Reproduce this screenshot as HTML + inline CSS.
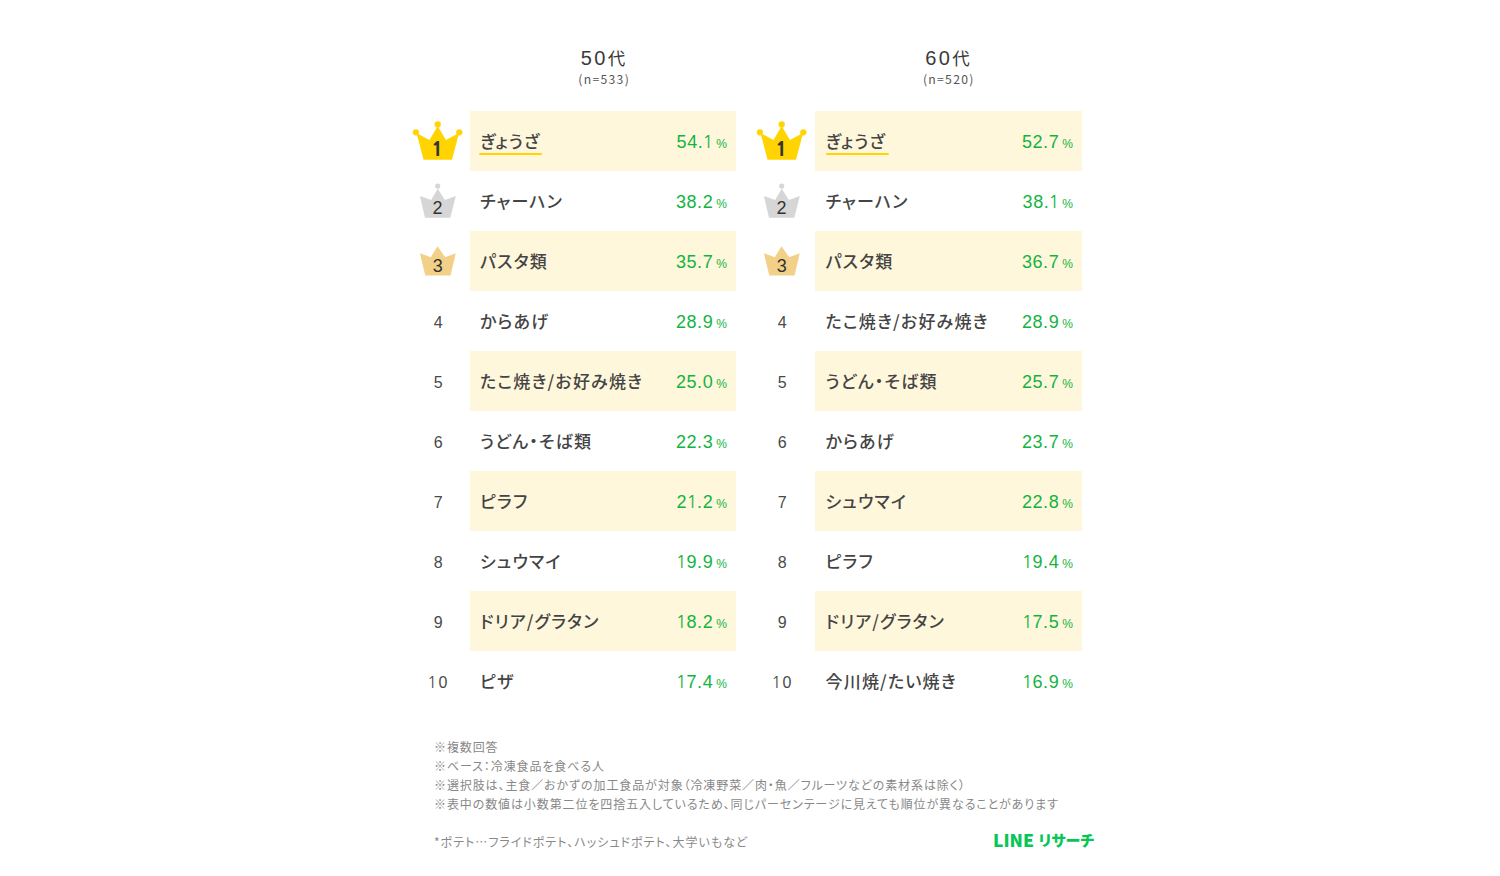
<!DOCTYPE html>
<html lang="ja">
<head>
<meta charset="utf-8">
<style>
html,body{margin:0;padding:0;background:#fff;}
body{width:1500px;height:876px;position:relative;overflow:hidden;font-family:"Liberation Sans","Noto Sans CJK JP",sans-serif;color:#3c3c3c;}
.hd{position:absolute;width:300px;text-align:center;white-space:nowrap;}
.c1 .hd{left:454.2px;}
.c2 .hd{left:798.8px;}
.h1{top:45px;font-size:19px;line-height:26px;color:#3a3a3a;letter-spacing:2.4px;}
.h1 .n{font-family:"Liberation Sans",sans-serif;font-size:20px;}
.h1 .k{font-family:"Noto Sans CJK JP",sans-serif;font-size:17.5px;}
.h2{top:71px;font-family:"Noto Sans CJK JP",sans-serif;font-size:12.2px;line-height:16px;color:#555;letter-spacing:1.3px;}
.row{position:absolute;left:0;width:1500px;height:60px;}
.bx{position:absolute;top:0;height:60px;}
.row.sh .bx{background:#fff7dc;}
.c1 .bx{left:470px;width:266px;}
.c2 .bx{left:815px;width:267px;}
.nm{position:absolute;top:-0.5px;line-height:60px;font-family:"Noto Sans CJK JP",sans-serif;font-weight:500;font-size:17px;color:#444;white-space:nowrap;font-feature-settings:"palt";letter-spacing:1.2px;}
.c1 .nm{left:480px;}
.c2 .nm{left:825.5px;}
.pc{position:absolute;top:1px;line-height:60px;font-size:18px;color:#12b440;white-space:nowrap;letter-spacing:0.6px;}
.c1 .pc{right:773px;}
.c2 .pc{right:427px;}
.pc small{font-size:12px;letter-spacing:0;margin-left:3px;}
.rk{position:absolute;top:2px;width:40px;text-align:center;line-height:60px;font-size:16px;color:#4a4a4a;}
.c1 .rk{left:418.1px;}
.c2 .rk{left:762.2px;}
.cr{position:absolute;top:0;width:60px;height:60px;}
.c1 .cr{left:410px;}
.c2 .cr{left:753.8px;}
.ul{position:absolute;height:2.6px;top:41.6px;background:#ffd400;border-radius:1.3px;}
.c1 .ul{left:479px;}
.c2 .ul{left:826px;}
.notes{position:absolute;left:434px;top:737px;font-family:"Noto Sans CJK JP",sans-serif;font-size:12px;line-height:19px;color:#888;white-space:nowrap;letter-spacing:0.9px;font-feature-settings:"palt";}
.foot{position:absolute;left:434px;top:832px;font-family:"Noto Sans CJK JP",sans-serif;font-size:12px;line-height:19px;color:#888;white-space:nowrap;letter-spacing:1px;font-feature-settings:"palt";}
.p{font-feature-settings:"palt";}
.o{font-family:"NanumGothic","Liberation Sans",sans-serif;line-height:1;}
.pc .o{margin:0 -0.8px;}
.rk .o{position:relative;left:-1.5px;}
.logo{position:absolute;top:829px;font-family:"Noto Sans CJK JP",sans-serif;font-weight:900;line-height:22px;color:#06c755;white-space:nowrap;}
.l1{left:993px;font-size:17.5px;}
.l2{left:1038.5px;font-size:15px;font-feature-settings:"palt";}
</style>
</head>
<body>

<div class="c1">
  <div class="hd h1"><span class="n">50</span><span class="k">代</span></div>
  <div class="hd h2">(n=533)</div>
  <div class="row sh" style="top:111px"><div class="bx"></div><svg class="cr" viewBox="0 0 60 60" width="60" height="60"><circle cx="5.9" cy="21.3" r="3.1" fill="#ffd400"/><circle cx="27.7" cy="13.4" r="3.1" fill="#ffd400"/><circle cx="49.3" cy="21.3" r="3.1" fill="#ffd400"/><polygon points="6.5,22 19.5,29.1 27.7,15 35.9,29.1 49,22 42,48.7 13.6,48.7" fill="#ffd400"/><text x="27.2" y="45" text-anchor="middle" font-family="NanumGothic" font-weight="800" font-size="19" fill="#333">1</text></svg><div class="nm">ぎょうざ</div><div class="ul" style="width:63px"></div><div class="pc">54.<span class=o>1</span><small>%</small></div></div>
  <div class="row" style="top:171px"><div class="bx"></div><svg class="cr" viewBox="0 0 60 60" width="60" height="60"><circle cx="27.7" cy="15" r="2.6" fill="#d6d6d6"/><polygon points="9.9,24.9 21.2,29 27.7,17.7 34.9,29 45.8,24.9 40.3,46.8 15,46.8" fill="#d6d6d6"/><text x="27.5" y="43.4" text-anchor="middle" font-family="Liberation Sans" font-size="18" fill="#333">2</text></svg><div class="nm">チャーハン</div><div class="pc">38.2<small>%</small></div></div>
  <div class="row sh" style="top:231px"><div class="bx"></div><svg class="cr" viewBox="0 0 60 60" width="60" height="60"><polygon points="9.9,22.2 20.8,26.3 27.5,15.3 35.2,26.3 45.8,22.2 40.5,44.4 15.3,44.4" fill="#f2d088"/><text x="27.7" y="41" text-anchor="middle" font-family="Liberation Sans" font-size="18" fill="#333">3</text></svg><div class="nm">パスタ類</div><div class="pc">35.7<small>%</small></div></div>
  <div class="row" style="top:291px"><div class="bx"></div><div class="rk">4</div><div class="nm">からあげ</div><div class="pc">28.9<small>%</small></div></div>
  <div class="row sh" style="top:351px"><div class="bx"></div><div class="rk">5</div><div class="nm">たこ焼き/お好み焼き</div><div class="pc">25.0<small>%</small></div></div>
  <div class="row" style="top:411px"><div class="bx"></div><div class="rk">6</div><div class="nm">うどん・そば類</div><div class="pc">22.3<small>%</small></div></div>
  <div class="row sh" style="top:471px"><div class="bx"></div><div class="rk">7</div><div class="nm">ピラフ</div><div class="pc">2<span class=o>1</span>.2<small>%</small></div></div>
  <div class="row" style="top:531px"><div class="bx"></div><div class="rk">8</div><div class="nm">シュウマイ</div><div class="pc"><span class=o>1</span>9.9<small>%</small></div></div>
  <div class="row sh" style="top:591px"><div class="bx"></div><div class="rk">9</div><div class="nm">ドリア/グラタン</div><div class="pc"><span class=o>1</span>8.2<small>%</small></div></div>
  <div class="row" style="top:651px"><div class="bx"></div><div class="rk"><span class=o>1</span>0</div><div class="nm">ピザ</div><div class="pc"><span class=o>1</span>7.4<small>%</small></div></div>
</div>

<div class="c2">
  <div class="hd h1"><span class="n">60</span><span class="k">代</span></div>
  <div class="hd h2">(n=520)</div>
  <div class="row sh" style="top:111px"><div class="bx"></div><svg class="cr" viewBox="0 0 60 60" width="60" height="60"><circle cx="5.9" cy="21.3" r="3.1" fill="#ffd400"/><circle cx="27.7" cy="13.4" r="3.1" fill="#ffd400"/><circle cx="49.3" cy="21.3" r="3.1" fill="#ffd400"/><polygon points="6.5,22 19.5,29.1 27.7,15 35.9,29.1 49,22 42,48.7 13.6,48.7" fill="#ffd400"/><text x="27.2" y="45" text-anchor="middle" font-family="NanumGothic" font-weight="800" font-size="19" fill="#333">1</text></svg><div class="nm">ぎょうざ</div><div class="ul" style="width:63px"></div><div class="pc">52.7<small>%</small></div></div>
  <div class="row" style="top:171px"><div class="bx"></div><svg class="cr" viewBox="0 0 60 60" width="60" height="60"><circle cx="27.7" cy="15" r="2.6" fill="#d6d6d6"/><polygon points="9.9,24.9 21.2,29 27.7,17.7 34.9,29 45.8,24.9 40.3,46.8 15,46.8" fill="#d6d6d6"/><text x="27.5" y="43.4" text-anchor="middle" font-family="Liberation Sans" font-size="18" fill="#333">2</text></svg><div class="nm">チャーハン</div><div class="pc">38.<span class=o>1</span><small>%</small></div></div>
  <div class="row sh" style="top:231px"><div class="bx"></div><svg class="cr" viewBox="0 0 60 60" width="60" height="60"><polygon points="9.9,22.2 20.8,26.3 27.5,15.3 35.2,26.3 45.8,22.2 40.5,44.4 15.3,44.4" fill="#f2d088"/><text x="27.7" y="41" text-anchor="middle" font-family="Liberation Sans" font-size="18" fill="#333">3</text></svg><div class="nm">パスタ類</div><div class="pc">36.7<small>%</small></div></div>
  <div class="row" style="top:291px"><div class="bx"></div><div class="rk">4</div><div class="nm">たこ焼き/お好み焼き</div><div class="pc">28.9<small>%</small></div></div>
  <div class="row sh" style="top:351px"><div class="bx"></div><div class="rk">5</div><div class="nm">うどん・そば類</div><div class="pc">25.7<small>%</small></div></div>
  <div class="row" style="top:411px"><div class="bx"></div><div class="rk">6</div><div class="nm">からあげ</div><div class="pc">23.7<small>%</small></div></div>
  <div class="row sh" style="top:471px"><div class="bx"></div><div class="rk">7</div><div class="nm">シュウマイ</div><div class="pc">22.8<small>%</small></div></div>
  <div class="row" style="top:531px"><div class="bx"></div><div class="rk">8</div><div class="nm">ピラフ</div><div class="pc"><span class=o>1</span>9.4<small>%</small></div></div>
  <div class="row sh" style="top:591px"><div class="bx"></div><div class="rk">9</div><div class="nm">ドリア/グラタン</div><div class="pc"><span class=o>1</span>7.5<small>%</small></div></div>
  <div class="row" style="top:651px"><div class="bx"></div><div class="rk"><span class=o>1</span>0</div><div class="nm">今川焼/たい焼き</div><div class="pc"><span class=o>1</span>6.9<small>%</small></div></div>
</div>

<div class="notes">※複数回答<br>※ベース<span class="p">：</span>冷凍食品を食べる人<br>※選択肢は<span class="p">、</span>主食／おかずの加工食品が対象<span class="p">（</span>冷凍野菜／肉<span class="p">・</span>魚／フルーツなどの素材系は除く<span class="p">）</span><br>※表中の数値は小数第二位を四捨五入しているため<span class="p">、</span>同じパーセンテージに見えても順位が異なることがあります</div>
<div class="foot">*ポテト…フライドポテト<span class="p">、</span>ハッシュドポテト<span class="p">、</span>大学いもなど</div>
<div class="logo l1">LINE</div><div class="logo l2">リサーチ</div>

</body>
</html>
